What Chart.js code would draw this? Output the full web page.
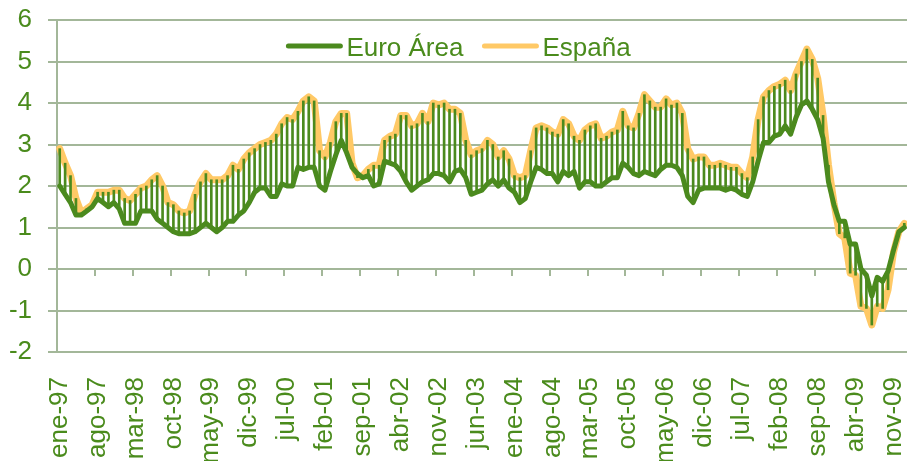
<!DOCTYPE html>
<html>
<head>
<meta charset="utf-8">
<script src="https://cdn.jsdelivr.net/npm/chart.js@4/dist/chart.umd.min.js"></script>
<style>
  html, body { margin: 0; padding: 0; background: #fff; }
  #wrap { width: 907px; height: 461px; }
</style>
</head>
<body>
<div id="wrap"><canvas id="ipcChart"></canvas></div>
<script>
const meses = ["ene", "feb", "mar", "abr", "may", "jun", "jul", "ago", "sep", "oct", "nov", "dic"];
const anios = ["97", "98", "99", "00", "01", "02", "03", "04", "05", "06", "07", "08", "09", "10"];
const totalMeses = 157; // ene-97 .. ene-10
const pasoEtiqueta = 7;

// Inflacion interanual, Euro Area
const euroArea = [
  2.0, 1.8, 1.6, 1.3, 1.3, 1.4, 1.5, 1.7, 1.6, 1.5, 1.6, 1.45,      // 1997
  1.1, 1.1, 1.1, 1.4, 1.4, 1.4, 1.2, 1.1, 1.0, 0.9, 0.85, 0.85,     // 1998
  0.85, 0.9, 1.0, 1.1, 1.0, 0.9, 1.0, 1.15, 1.15, 1.3, 1.4, 1.6,    // 1999
  1.85, 1.95, 1.95, 1.75, 1.75, 2.05, 2.0, 2.0, 2.45, 2.4, 2.45, 2.45, // 2000
  2.0, 1.9, 2.35, 2.75, 3.1, 2.8, 2.45, 2.3, 2.2, 2.25, 2.0, 2.05,  // 2001
  2.6, 2.55, 2.5, 2.35, 2.1, 1.9, 2.0, 2.1, 2.15, 2.3, 2.3, 2.25,   // 2002
  2.1, 2.35, 2.4, 2.2, 1.8, 1.85, 1.9, 2.05, 2.15, 2.0, 2.15, 1.95, // 2003
  1.85, 1.6, 1.7, 2.1, 2.45, 2.4, 2.3, 2.3, 2.1, 2.35, 2.25, 2.35,  // 2004
  1.95, 2.1, 2.1, 2.0, 2.0, 2.1, 2.2, 2.2, 2.55, 2.45, 2.3, 2.25,   // 2005
  2.35, 2.3, 2.25, 2.4, 2.5, 2.5, 2.45, 2.25, 1.75, 1.6, 1.9, 1.95, // 2006
  1.95, 1.95, 1.95, 1.9, 1.95, 1.9, 1.8, 1.75, 2.1, 2.6, 3.05, 3.05, // 2007
  3.2, 3.25, 3.45, 3.25, 3.65, 3.95, 4.05, 3.85, 3.6, 3.15, 2.1, 1.55, // 2008
  1.15, 1.15, 0.6, 0.6, 0.0, -0.15, -0.65, -0.2, -0.3, -0.05, 0.45, 0.9, // 2009
  1.0                                                                // 2010
];

// Inflacion interanual, Espana
const espana = [
  2.9, 2.55, 2.25, 1.7, 1.35, 1.45, 1.55, 1.85, 1.85, 1.85, 1.9, 1.9, // 1997
  1.7, 1.65, 1.8, 1.95, 2.0, 2.15, 2.25, 2.0, 1.6, 1.55, 1.4, 1.35,   // 1998
  1.4, 1.8, 2.1, 2.3, 2.15, 2.15, 2.15, 2.25, 2.5, 2.4, 2.65, 2.8,    // 1999
  2.9, 3.0, 3.05, 3.1, 3.25, 3.5, 3.65, 3.6, 3.8, 4.05, 4.15, 4.05,   // 2000
  2.85, 2.7, 3.05, 3.55, 3.75, 3.75, 2.55, 2.2, 2.25, 2.4, 2.5, 2.5,  // 2001
  3.1, 3.2, 3.25, 3.7, 3.7, 3.45, 3.5, 3.75, 3.55, 4.0, 3.95, 4.0,    // 2002
  3.85, 3.85, 3.75, 3.1, 2.75, 2.85, 2.9, 3.1, 3.0, 2.7, 2.85, 2.65,  // 2003
  2.25, 2.2, 2.25, 2.85, 3.4, 3.45, 3.4, 3.3, 3.25, 3.6, 3.5, 3.2,    // 2004
  3.1, 3.35, 3.45, 3.5, 3.15, 3.2, 3.3, 3.35, 3.8, 3.45, 3.4, 3.75,   // 2005
  4.2, 4.05, 3.9, 3.9, 4.1, 3.95, 4.0, 3.75, 2.9, 2.65, 2.7, 2.7,     // 2006
  2.5, 2.5, 2.55, 2.5, 2.45, 2.45, 2.3, 2.2, 2.7, 3.6, 4.15, 4.3,     // 2007
  4.4, 4.45, 4.55, 4.3, 4.7, 5.0, 5.3, 5.05, 4.6, 3.7, 2.5, 1.6,      // 2008
  0.85, 0.75, -0.1, -0.15, -0.9, -0.95, -1.35, -0.9, -0.95, -0.5, 0.4, 0.9, // 2009
  1.1                                                                  // 2010
];

const verdeTexto = "#4a8b1c";
const verdeEuro = "#4b8a1e";
const naranjaEsp = "#ffc966";
const colorRejilla = "#a3b799";
const fuente = '"Liberation Sans", Arial, sans-serif';

const etiquetas = [];
for (let i = 0; i < totalMeses; i++) {
  etiquetas.push(`${meses[i % 12]}-${anios[Math.floor(i / 12)]}`);
}

// lineas verticales entre las dos series (max-min)
const diferencias = euroArea.map((v, i) => [Math.min(v, espana[i]), Math.max(v, espana[i])]);

Chart.defaults.font.family = fuente;

const leyendaDentro = {
  id: "leyendaDentro",
  afterDraw(chart) {
    const { ctx } = chart;
    const items = [
      { label: "Euro Área", color: verdeEuro },
      { label: "España", color: naranjaEsp },
    ];
    ctx.save();
    ctx.font = `26px ${fuente}`;
    const largo = 56, sepTexto = 4, sepItem = 19;
    const anchos = items.map((it) => largo + sepTexto + ctx.measureText(it.label).width);
    const total = anchos.reduce((a, b) => a + b, 0) + sepItem * (items.length - 1);
    let x = chart.width / 2 + 5 - total / 2;
    const yLinea = 46;
    items.forEach((it, k) => {
      ctx.strokeStyle = it.color;
      ctx.lineWidth = 5;
      ctx.lineCap = "round";
      ctx.beginPath();
      ctx.moveTo(x + 2, yLinea);
      ctx.lineTo(x + largo - 2, yLinea);
      ctx.stroke();
      ctx.fillStyle = verdeTexto;
      ctx.textBaseline = "alphabetic";
      ctx.fillText(it.label, x + largo + sepTexto, yLinea + 10);
      x += anchos[k] + sepItem;
    });
    ctx.restore();
  },
};

new Chart(document.getElementById("ipcChart"), {
  type: "line",
  data: {
    labels: etiquetas,
    datasets: [
      {
        label: "Euro Área",
        data: euroArea,
        borderColor: verdeEuro,
        borderWidth: 5,
        pointRadius: 0,
        tension: 0,
        borderJoinStyle: "round",
        borderCapStyle: "round",
        fill: false,
      },
      {
        type: "bar",
        label: "dif",
        data: diferencias,
        backgroundColor: verdeEuro,
        borderWidth: 0,
        barThickness: 2,
      },
      {
        label: "España",
        data: espana,
        borderColor: naranjaEsp,
        borderWidth: 7,
        pointRadius: 0,
        tension: 0,
        borderJoinStyle: "round",
        borderCapStyle: "round",
        fill: false,
      },
    ],
  },
  options: {
    responsive: true,
    maintainAspectRatio: false,
    animation: false,
    events: [],
    layout: { padding: { left: 9, top: 20, right: 0, bottom: 0 } },
    plugins: { legend: { display: false }, tooltip: { enabled: false } },
    scales: {
      x: {
        type: "category",
        offset: true,
        grid: { display: false, drawTicks: false },
        border: { display: false },
        ticks: {
          autoSkip: false,
          minRotation: 90,
          maxRotation: 90,
          padding: 25,
          color: verdeTexto,
          font: { size: 26 },
          callback: (v, i) => (i % pasoEtiqueta === 0 ? etiquetas[i] : ""),
        },
        afterFit: (s) => {
          s.height = 109;
          s.paddingLeft = 0;
          s.paddingRight = 0;
        },
      },
      xCero: {
        type: "category",
        axis: "x",
        position: { y: 0 },
        offset: true,
        grid: {
          drawOnChartArea: false,
          drawTicks: true,
          tickLength: 7,
          lineWidth: 2,
          offset: true,
          color: (c) => (c.index % pasoEtiqueta === 0 ? colorRejilla : "rgba(0,0,0,0)"),
        },
        border: { display: false },
        ticks: { display: false, autoSkip: false },
        afterFit: (s) => {
          s.paddingLeft = 0;
          s.paddingRight = 0;
        },
      },
      y: {
        min: -2,
        max: 6,
        ticks: { stepSize: 1, padding: 16, color: verdeTexto, font: { size: 26 } },
        grid: { color: colorRejilla, lineWidth: 2, drawTicks: true, tickLength: 9 },
        border: { color: colorRejilla, width: 2 },
        afterFit: (s) => {
          s.width = 48;
          s.paddingTop = 0;
          s.paddingBottom = 0;
        },
      },
    },
  },
  plugins: [leyendaDentro],
});
</script>
</body>
</html>
